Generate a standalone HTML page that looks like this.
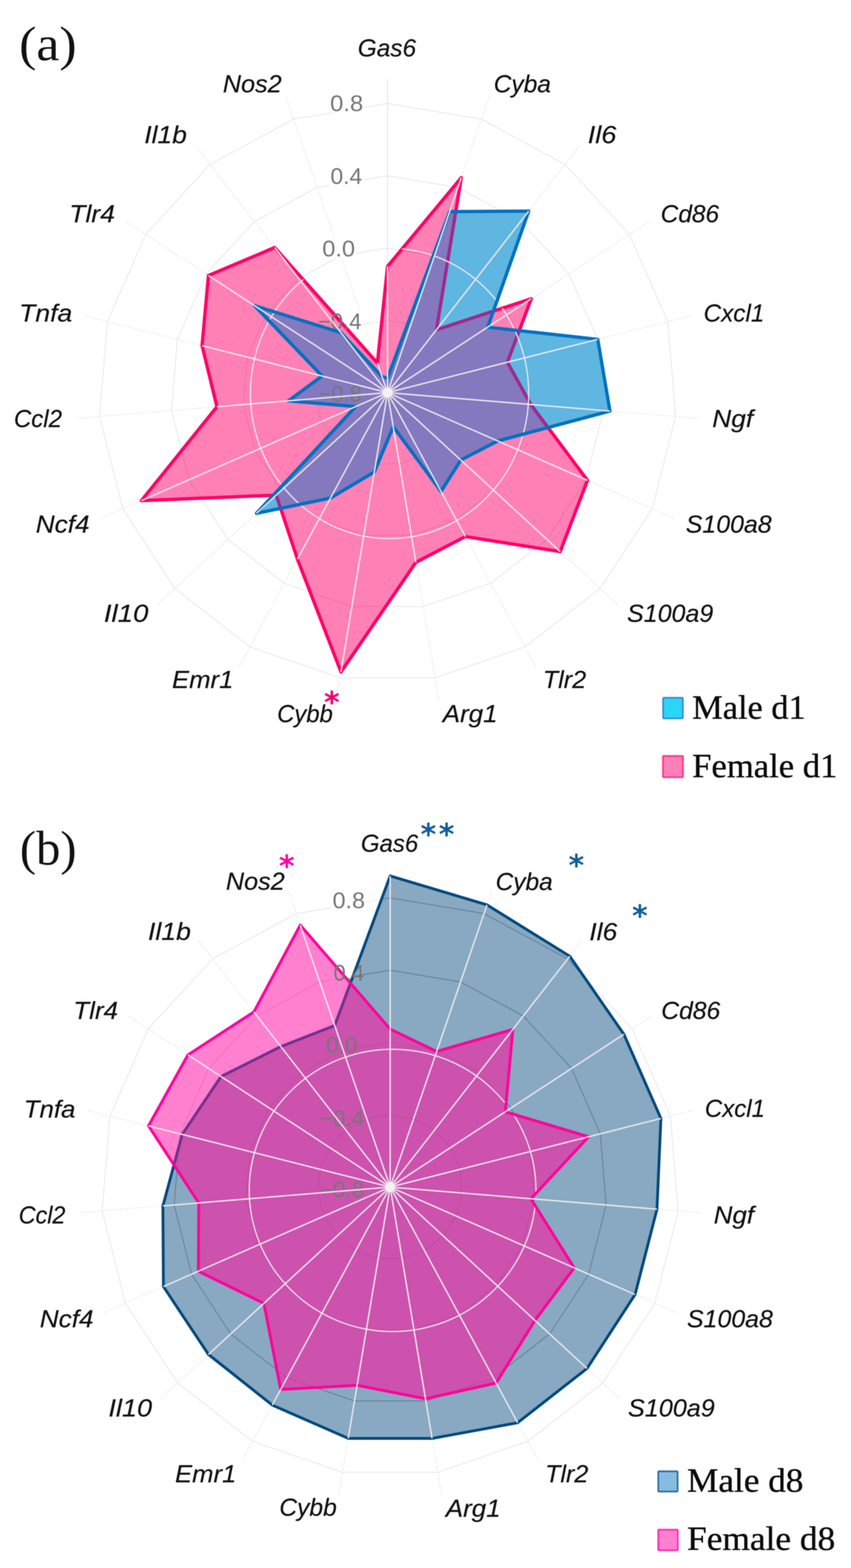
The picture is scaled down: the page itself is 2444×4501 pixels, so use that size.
<!DOCTYPE html>
<html><head><meta charset="utf-8"><title>Radar charts</title><style>
html,body{margin:0;padding:0;background:#fff;}
svg{display:block;}
#wrap{filter:blur(1.2px);width:2444px;height:4501px;overflow:hidden;}
.ring{fill:none;stroke:#ebebeb;stroke-width:3;}
.spoke{stroke:#e9e9e9;stroke-width:3;stroke-dasharray:5 4;}
.axis{stroke:#e6e6e6;stroke-width:3;}
.wsp{stroke:#ece8ee;stroke-width:4;}
.wcirc{fill:none;stroke:#ece8ee;stroke-width:3.5;}
.dring1{fill:none;stroke:rgba(150,40,90,0.16);stroke-width:2.5;}
.dring2{fill:none;stroke:rgba(40,70,100,0.42);stroke-width:2.5;}
.lab text{font-family:"Liberation Sans",sans-serif;font-style:italic;font-size:70px;fill:#111;stroke:#111;stroke-width:0.5px;}
.tick text{font-family:"Liberation Sans",sans-serif;font-size:64px;fill:#767676;}
.panel text{font-family:"Liberation Serif",serif;font-size:140px;fill:#111;}
.legend text{font-family:"Liberation Serif",serif;font-size:97px;fill:#0a0a0a;stroke:#0a0a0a;stroke-width:0.9px;}
.ast text{font-family:"DejaVu Sans",sans-serif;font-size:86px;font-weight:bold;}
</style></head>
<body>
<div id="wrap">
<svg width="2444" height="4501" viewBox="0 0 2444 4501">
<defs>
<clipPath id="cpA"><polygon points="1113.0,764.6 1324.8,509.9 1253.4,946.6 1525.7,857.4 1457.2,1039.8 1524.4,1161.1 1687.2,1378.9 1608.8,1583.4 1336.6,1540.1 1194.3,1614.3 979.2,1928.9 854.3,1605.0 793.3,1421.3 406.0,1437.1 623.0,1167.6 580.3,992.1 598.6,790.9 788.8,710.5 1083.8,1042.1"/></clipPath>
<clipPath id="cbA"><polygon points="1113.0,1085.0 1291.4,607.4 1518.5,606.0 1400.7,939.1 1716.7,974.1 1751.7,1179.9 1429.5,1265.8 1323.3,1320.6 1266.5,1410.7 1129.4,1225.0 1075.0,1354.8 949.2,1429.6 736.5,1473.6 1021.5,1167.1 828.2,1150.6 925.0,1079.4 730.9,877.4 979.0,954.8 1097.4,1081.6"/></clipPath>
<clipPath id="cuA"><polygon points="1113.0,764.6 1324.8,509.9 1253.4,946.6 1525.7,857.4 1457.2,1039.8 1524.4,1161.1 1687.2,1378.9 1608.8,1583.4 1336.6,1540.1 1194.3,1614.3 979.2,1928.9 854.3,1605.0 793.3,1421.3 406.0,1437.1 623.0,1167.6 580.3,992.1 598.6,790.9 788.8,710.5 1083.8,1042.1"/><polygon points="1113.0,1085.0 1291.4,607.4 1518.5,606.0 1400.7,939.1 1716.7,974.1 1751.7,1179.9 1429.5,1265.8 1323.3,1320.6 1266.5,1410.7 1129.4,1225.0 1075.0,1354.8 949.2,1429.6 736.5,1473.6 1021.5,1167.1 828.2,1150.6 925.0,1079.4 730.9,877.4 979.0,954.8 1097.4,1081.6"/></clipPath>
<clipPath id="cpB"><polygon points="1120.5,2954.0 1254.1,3018.2 1472.9,2954.8 1451.3,3191.3 1690.5,3263.2 1524.7,3441.0 1649.1,3639.4 1536.3,3790.3 1424.9,3970.0 1221.9,4015.1 1025.5,3976.5 806.1,3988.4 757.9,3741.3 569.7,3649.1 570.8,3453.1 426.5,3231.8 539.6,3028.0 729.1,2904.7 862.3,2655.4"/></clipPath>
<clipPath id="cbB"><polygon points="1120.5,2514.3 1398.6,2597.4 1636.3,2744.9 1791.8,2968.9 1898.1,3210.6 1886.8,3471.0 1823.9,3716.0 1686.0,3928.1 1486.6,4084.0 1240.9,4129.1 1000.1,4128.9 781.8,4033.4 598.6,3888.0 469.3,3693.1 467.8,3461.6 523.3,3256.3 634.8,3090.2 806.6,3004.2 961.3,2943.8"/></clipPath>
</defs>
<rect width="2444" height="4501" fill="#ffffff"/>
<g id="chartA">
<polygon points="1113.0,919.5 1180.4,930.7 1240.4,963.3 1286.7,1013.5 1314.2,1076.1 1319.8,1144.1 1303.0,1210.4 1265.7,1267.5 1211.8,1309.5 1147.2,1331.7 1078.8,1331.7 1014.2,1309.5 960.3,1267.5 923.0,1210.4 906.2,1144.1 911.8,1076.1 939.3,1013.5 985.6,963.3 1045.6,930.7" class="ring"/>
<polygon points="1113.0,712.0 1247.8,734.5 1367.9,799.5 1460.4,900.0 1515.3,1025.1 1526.6,1161.3 1493.0,1293.7 1418.3,1408.1 1310.5,1492.0 1181.3,1536.3 1044.7,1536.3 915.5,1492.0 807.7,1408.1 733.0,1293.7 699.4,1161.3 710.7,1025.1 765.6,900.0 858.1,799.5 978.2,734.5" class="ring"/>
<polygon points="1113.0,504.5 1315.1,538.2 1495.3,635.8 1634.1,786.5 1716.5,974.2 1733.4,1178.4 1683.1,1377.1 1571.0,1548.6 1409.3,1674.5 1215.5,1741.0 1010.5,1741.0 816.7,1674.5 655.0,1548.6 542.9,1377.1 492.6,1178.4 509.5,974.2 591.9,786.5 730.7,635.8 910.9,538.2" class="ring"/>
<polygon points="1113.0,297.0 1382.5,342.0 1622.8,472.0 1807.8,673.0 1917.6,923.2 1940.2,1195.5 1873.1,1460.4 1723.7,1689.1 1508.0,1857.0 1249.6,1945.7 976.4,1945.7 718.0,1857.0 502.3,1689.1 352.9,1460.4 285.8,1195.5 308.4,923.2 418.2,673.0 603.2,472.0 843.5,342.0" class="ring"/>
<line x1="1113.0" y1="1127.0" x2="1113.0" y2="227.0" class="axis"/>
<line x1="1113.0" y1="1127.0" x2="1405.2" y2="275.8" class="spoke"/>
<line x1="1113.0" y1="1127.0" x2="1665.8" y2="416.8" class="spoke"/>
<line x1="1113.0" y1="1127.0" x2="1866.4" y2="634.7" class="spoke"/>
<line x1="1113.0" y1="1127.0" x2="1985.5" y2="906.1" class="spoke"/>
<line x1="1113.0" y1="1127.0" x2="2009.9" y2="1201.3" class="spoke"/>
<line x1="1113.0" y1="1127.0" x2="1937.2" y2="1488.5" class="spoke"/>
<line x1="1113.0" y1="1127.0" x2="1775.2" y2="1736.6" class="spoke"/>
<line x1="1113.0" y1="1127.0" x2="1541.4" y2="1918.5" class="spoke"/>
<line x1="1113.0" y1="1127.0" x2="1261.1" y2="2014.7" class="spoke"/>
<line x1="1113.0" y1="1127.0" x2="964.9" y2="2014.7" class="spoke"/>
<line x1="1113.0" y1="1127.0" x2="684.6" y2="1918.5" class="spoke"/>
<line x1="1113.0" y1="1127.0" x2="450.8" y2="1736.6" class="spoke"/>
<line x1="1113.0" y1="1127.0" x2="288.8" y2="1488.5" class="spoke"/>
<line x1="1113.0" y1="1127.0" x2="216.1" y2="1201.3" class="spoke"/>
<line x1="1113.0" y1="1127.0" x2="240.5" y2="906.1" class="spoke"/>
<line x1="1113.0" y1="1127.0" x2="359.6" y2="634.7" class="spoke"/>
<line x1="1113.0" y1="1127.0" x2="560.2" y2="416.8" class="spoke"/>
<line x1="1113.0" y1="1127.0" x2="820.8" y2="275.8" class="spoke"/>
<rect x="946.0" y="268.8" width="98.7" height="54.1" fill="#ffffff"/>
<rect x="946.0" y="478.0" width="97.0" height="54.7" fill="#ffffff"/>
<rect x="923.6" y="686.0" width="98.6" height="55.2" fill="#ffffff"/>
<rect x="911.0" y="894.8" width="131.2" height="55.2" fill="#ffffff"/>
<rect x="913.0" y="1105.0" width="128.5" height="51.0" fill="#ffffff"/>
<polygon points="1113.0,764.6 1324.8,509.9 1253.4,946.6 1525.7,857.4 1457.2,1039.8 1524.4,1161.1 1687.2,1378.9 1608.8,1583.4 1336.6,1540.1 1194.3,1614.3 979.2,1928.9 854.3,1605.0 793.3,1421.3 406.0,1437.1 623.0,1167.6 580.3,992.1 598.6,790.9 788.8,710.5 1083.8,1042.1" fill="#ff80b4"/>
<g clip-path="url(#cpA)"><polygon points="1113.0,919.5 1180.4,930.7 1240.4,963.3 1286.7,1013.5 1314.2,1076.1 1319.8,1144.1 1303.0,1210.4 1265.7,1267.5 1211.8,1309.5 1147.2,1331.7 1078.8,1331.7 1014.2,1309.5 960.3,1267.5 923.0,1210.4 906.2,1144.1 911.8,1076.1 939.3,1013.5 985.6,963.3 1045.6,930.7" class="dring1"/><polygon points="1113.0,712.0 1247.8,734.5 1367.9,799.5 1460.4,900.0 1515.3,1025.1 1526.6,1161.3 1493.0,1293.7 1418.3,1408.1 1310.5,1492.0 1181.3,1536.3 1044.7,1536.3 915.5,1492.0 807.7,1408.1 733.0,1293.7 699.4,1161.3 710.7,1025.1 765.6,900.0 858.1,799.5 978.2,734.5" class="dring1"/><polygon points="1113.0,504.5 1315.1,538.2 1495.3,635.8 1634.1,786.5 1716.5,974.2 1733.4,1178.4 1683.1,1377.1 1571.0,1548.6 1409.3,1674.5 1215.5,1741.0 1010.5,1741.0 816.7,1674.5 655.0,1548.6 542.9,1377.1 492.6,1178.4 509.5,974.2 591.9,786.5 730.7,635.8 910.9,538.2" class="dring1"/><polygon points="1113.0,297.0 1382.5,342.0 1622.8,472.0 1807.8,673.0 1917.6,923.2 1940.2,1195.5 1873.1,1460.4 1723.7,1689.1 1508.0,1857.0 1249.6,1945.7 976.4,1945.7 718.0,1857.0 502.3,1689.1 352.9,1460.4 285.8,1195.5 308.4,923.2 418.2,673.0 603.2,472.0 843.5,342.0" class="dring1"/></g>
<polygon points="1113.0,764.6 1324.8,509.9 1253.4,946.6 1525.7,857.4 1457.2,1039.8 1524.4,1161.1 1687.2,1378.9 1608.8,1583.4 1336.6,1540.1 1194.3,1614.3 979.2,1928.9 854.3,1605.0 793.3,1421.3 406.0,1437.1 623.0,1167.6 580.3,992.1 598.6,790.9 788.8,710.5 1083.8,1042.1" fill="none" stroke="#ff0066" stroke-width="9.5" stroke-linejoin="round"/>
<polygon points="1113.0,1085.0 1291.4,607.4 1518.5,606.0 1400.7,939.1 1716.7,974.1 1751.7,1179.9 1429.5,1265.8 1323.3,1320.6 1266.5,1410.7 1129.4,1225.0 1075.0,1354.8 949.2,1429.6 736.5,1473.6 1021.5,1167.1 828.2,1150.6 925.0,1079.4 730.9,877.4 979.0,954.8 1097.4,1081.6" fill="#5fb6e0"/>
<polygon points="1113.0,1085.0 1291.4,607.4 1518.5,606.0 1400.7,939.1 1716.7,974.1 1751.7,1179.9 1429.5,1265.8 1323.3,1320.6 1266.5,1410.7 1129.4,1225.0 1075.0,1354.8 949.2,1429.6 736.5,1473.6 1021.5,1167.1 828.2,1150.6 925.0,1079.4 730.9,877.4 979.0,954.8 1097.4,1081.6" fill="#8479bf" clip-path="url(#cpA)"/>
<polygon points="1113.0,764.6 1324.8,509.9 1253.4,946.6 1525.7,857.4 1457.2,1039.8 1524.4,1161.1 1687.2,1378.9 1608.8,1583.4 1336.6,1540.1 1194.3,1614.3 979.2,1928.9 854.3,1605.0 793.3,1421.3 406.0,1437.1 623.0,1167.6 580.3,992.1 598.6,790.9 788.8,710.5 1083.8,1042.1" fill="none" stroke="#a0288c" stroke-width="9.5" stroke-linejoin="round" clip-path="url(#cbA)"/>
<g clip-path="url(#cuA)"><ellipse cx="1118.8" cy="1129.4" rx="399.5" ry="416.7" class="wcirc"/></g>
<polygon points="1113.0,1085.0 1291.4,607.4 1518.5,606.0 1400.7,939.1 1716.7,974.1 1751.7,1179.9 1429.5,1265.8 1323.3,1320.6 1266.5,1410.7 1129.4,1225.0 1075.0,1354.8 949.2,1429.6 736.5,1473.6 1021.5,1167.1 828.2,1150.6 925.0,1079.4 730.9,877.4 979.0,954.8 1097.4,1081.6" fill="none" stroke="#0070c0" stroke-width="9.5" stroke-linejoin="round"/>
<g class="tick">
<text id="t_tA0_8" x="948.0" y="318.8" textLength="95.1" lengthAdjust="spacingAndGlyphs">0.8</text>
<text id="t_tA0_4" x="949.0" y="527.5" textLength="91.2" lengthAdjust="spacingAndGlyphs">0.4</text>
<text id="t_tA0_0" x="925.6" y="736.2" textLength="93.9" lengthAdjust="spacingAndGlyphs">0.0</text>
<text id="t_tA-0_4" x="913.0" y="945.0" textLength="125.4" lengthAdjust="spacingAndGlyphs">−0.4</text>
<text id="t_tA-0_8" x="915.0" y="1153.0" textLength="123.8" lengthAdjust="spacingAndGlyphs">−0.8</text>
</g>
<line x1="1113.0" y1="1127.0" x2="1113.0" y2="764.6" class="wsp"/>
<line x1="1113.0" y1="1127.0" x2="1324.8" y2="509.9" class="wsp"/>
<line x1="1113.0" y1="1127.0" x2="1518.5" y2="606.0" class="wsp"/>
<line x1="1113.0" y1="1127.0" x2="1525.7" y2="857.4" class="wsp"/>
<line x1="1113.0" y1="1127.0" x2="1716.7" y2="974.1" class="wsp"/>
<line x1="1113.0" y1="1127.0" x2="1751.7" y2="1179.9" class="wsp"/>
<line x1="1113.0" y1="1127.0" x2="1687.2" y2="1378.9" class="wsp"/>
<line x1="1113.0" y1="1127.0" x2="1608.8" y2="1583.4" class="wsp"/>
<line x1="1113.0" y1="1127.0" x2="1336.6" y2="1540.1" class="wsp"/>
<line x1="1113.0" y1="1127.0" x2="1194.3" y2="1614.3" class="wsp"/>
<line x1="1113.0" y1="1127.0" x2="979.2" y2="1928.9" class="wsp"/>
<line x1="1113.0" y1="1127.0" x2="854.3" y2="1605.0" class="wsp"/>
<line x1="1113.0" y1="1127.0" x2="736.5" y2="1473.6" class="wsp"/>
<line x1="1113.0" y1="1127.0" x2="406.0" y2="1437.1" class="wsp"/>
<line x1="1113.0" y1="1127.0" x2="623.0" y2="1167.6" class="wsp"/>
<line x1="1113.0" y1="1127.0" x2="580.3" y2="992.1" class="wsp"/>
<line x1="1113.0" y1="1127.0" x2="598.6" y2="790.9" class="wsp"/>
<line x1="1113.0" y1="1127.0" x2="788.8" y2="710.5" class="wsp"/>
<line x1="1113.0" y1="1127.0" x2="1083.8" y2="1042.1" class="wsp"/>
<circle cx="1113.0" cy="1127.0" r="14" fill="#f3f1f4"/>
</g>
<g id="chartB">
<polygon points="1120.5,3200.0 1187.9,3211.2 1247.9,3243.8 1294.2,3294.0 1321.7,3356.6 1327.3,3424.6 1310.5,3490.9 1273.2,3548.0 1219.3,3590.0 1154.7,3612.2 1086.3,3612.2 1021.7,3590.0 967.8,3548.0 930.5,3490.9 913.7,3424.6 919.3,3356.6 946.8,3294.0 993.1,3243.8 1053.1,3211.2" class="ring"/>
<polygon points="1120.5,2992.5 1255.3,3015.0 1375.4,3080.0 1467.9,3180.5 1522.8,3305.6 1534.1,3441.8 1500.5,3574.2 1425.8,3688.6 1318.0,3772.5 1188.8,3816.8 1052.2,3816.8 923.0,3772.5 815.2,3688.6 740.5,3574.2 706.9,3441.8 718.2,3305.6 773.1,3180.5 865.6,3080.0 985.7,3015.0" class="ring"/>
<polygon points="1120.5,2785.0 1322.6,2818.7 1502.8,2916.3 1641.6,3067.0 1724.0,3254.7 1740.9,3458.9 1690.6,3657.6 1578.5,3829.1 1416.8,3955.0 1223.0,4021.5 1018.0,4021.5 824.2,3955.0 662.5,3829.1 550.4,3657.6 500.1,3458.9 517.0,3254.7 599.4,3067.0 738.2,2916.3 918.4,2818.7" class="ring"/>
<polygon points="1120.5,2577.5 1390.0,2622.5 1630.3,2752.5 1815.3,2953.5 1925.1,3203.7 1947.7,3476.0 1880.6,3740.9 1731.2,3969.6 1515.5,4137.5 1257.1,4226.2 983.9,4226.2 725.5,4137.5 509.8,3969.6 360.4,3740.9 293.3,3476.0 315.9,3203.7 425.7,2953.5 610.7,2752.5 851.0,2622.5" class="ring"/>
<line x1="1120.5" y1="3407.5" x2="1120.5" y2="2507.5" class="axis"/>
<line x1="1120.5" y1="3407.5" x2="1412.7" y2="2556.3" class="spoke"/>
<line x1="1120.5" y1="3407.5" x2="1673.3" y2="2697.3" class="spoke"/>
<line x1="1120.5" y1="3407.5" x2="1873.9" y2="2915.2" class="spoke"/>
<line x1="1120.5" y1="3407.5" x2="1993.0" y2="3186.6" class="spoke"/>
<line x1="1120.5" y1="3407.5" x2="2017.4" y2="3481.8" class="spoke"/>
<line x1="1120.5" y1="3407.5" x2="1944.7" y2="3769.0" class="spoke"/>
<line x1="1120.5" y1="3407.5" x2="1782.7" y2="4017.1" class="spoke"/>
<line x1="1120.5" y1="3407.5" x2="1548.9" y2="4199.0" class="spoke"/>
<line x1="1120.5" y1="3407.5" x2="1268.6" y2="4295.2" class="spoke"/>
<line x1="1120.5" y1="3407.5" x2="972.4" y2="4295.2" class="spoke"/>
<line x1="1120.5" y1="3407.5" x2="692.1" y2="4199.0" class="spoke"/>
<line x1="1120.5" y1="3407.5" x2="458.3" y2="4017.1" class="spoke"/>
<line x1="1120.5" y1="3407.5" x2="296.3" y2="3769.0" class="spoke"/>
<line x1="1120.5" y1="3407.5" x2="223.6" y2="3481.8" class="spoke"/>
<line x1="1120.5" y1="3407.5" x2="248.0" y2="3186.6" class="spoke"/>
<line x1="1120.5" y1="3407.5" x2="367.1" y2="2915.2" class="spoke"/>
<line x1="1120.5" y1="3407.5" x2="567.7" y2="2697.3" class="spoke"/>
<line x1="1120.5" y1="3407.5" x2="828.3" y2="2556.3" class="spoke"/>
<rect x="953.0" y="2559.6" width="98.0" height="50.9" fill="#ffffff"/>
<rect x="955.0" y="2765.5" width="94.0" height="53.0" fill="#ffffff"/>
<rect x="933.6" y="2972.4" width="95.8" height="53.1" fill="#ffffff"/>
<rect x="916.5" y="3183.8" width="132.2" height="51.7" fill="#ffffff"/>
<rect x="916.5" y="3389.0" width="132.2" height="51.7" fill="#ffffff"/>
<polygon points="1120.5,2514.3 1398.6,2597.4 1636.3,2744.9 1791.8,2968.9 1898.1,3210.6 1886.8,3471.0 1823.9,3716.0 1686.0,3928.1 1486.6,4084.0 1240.9,4129.1 1000.1,4128.9 781.8,4033.4 598.6,3888.0 469.3,3693.1 467.8,3461.6 523.3,3256.3 634.8,3090.2 806.6,3004.2 961.3,2943.8" fill="#88a9c1"/>
<g clip-path="url(#cbB)"><polygon points="1120.5,3200.0 1187.9,3211.2 1247.9,3243.8 1294.2,3294.0 1321.7,3356.6 1327.3,3424.6 1310.5,3490.9 1273.2,3548.0 1219.3,3590.0 1154.7,3612.2 1086.3,3612.2 1021.7,3590.0 967.8,3548.0 930.5,3490.9 913.7,3424.6 919.3,3356.6 946.8,3294.0 993.1,3243.8 1053.1,3211.2" class="dring2"/><polygon points="1120.5,2992.5 1255.3,3015.0 1375.4,3080.0 1467.9,3180.5 1522.8,3305.6 1534.1,3441.8 1500.5,3574.2 1425.8,3688.6 1318.0,3772.5 1188.8,3816.8 1052.2,3816.8 923.0,3772.5 815.2,3688.6 740.5,3574.2 706.9,3441.8 718.2,3305.6 773.1,3180.5 865.6,3080.0 985.7,3015.0" class="dring2"/><polygon points="1120.5,2785.0 1322.6,2818.7 1502.8,2916.3 1641.6,3067.0 1724.0,3254.7 1740.9,3458.9 1690.6,3657.6 1578.5,3829.1 1416.8,3955.0 1223.0,4021.5 1018.0,4021.5 824.2,3955.0 662.5,3829.1 550.4,3657.6 500.1,3458.9 517.0,3254.7 599.4,3067.0 738.2,2916.3 918.4,2818.7" class="dring2"/><polygon points="1120.5,2577.5 1390.0,2622.5 1630.3,2752.5 1815.3,2953.5 1925.1,3203.7 1947.7,3476.0 1880.6,3740.9 1731.2,3969.6 1515.5,4137.5 1257.1,4226.2 983.9,4226.2 725.5,4137.5 509.8,3969.6 360.4,3740.9 293.3,3476.0 315.9,3203.7 425.7,2953.5 610.7,2752.5 851.0,2622.5" class="dring2"/></g>
<polygon points="1120.5,2514.3 1398.6,2597.4 1636.3,2744.9 1791.8,2968.9 1898.1,3210.6 1886.8,3471.0 1823.9,3716.0 1686.0,3928.1 1486.6,4084.0 1240.9,4129.1 1000.1,4128.9 781.8,4033.4 598.6,3888.0 469.3,3693.1 467.8,3461.6 523.3,3256.3 634.8,3090.2 806.6,3004.2 961.3,2943.8" fill="none" stroke="#00487c" stroke-width="8" stroke-linejoin="round"/>
<polygon points="1120.5,2954.0 1254.1,3018.2 1472.9,2954.8 1451.3,3191.3 1690.5,3263.2 1524.7,3441.0 1649.1,3639.4 1536.3,3790.3 1424.9,3970.0 1221.9,4015.1 1025.5,3976.5 806.1,3988.4 757.9,3741.3 569.7,3649.1 570.8,3453.1 426.5,3231.8 539.6,3028.0 729.1,2904.7 862.3,2655.4" fill="#ff80cf"/>
<polygon points="1120.5,2954.0 1254.1,3018.2 1472.9,2954.8 1451.3,3191.3 1690.5,3263.2 1524.7,3441.0 1649.1,3639.4 1536.3,3790.3 1424.9,3970.0 1221.9,4015.1 1025.5,3976.5 806.1,3988.4 757.9,3741.3 569.7,3649.1 570.8,3453.1 426.5,3231.8 539.6,3028.0 729.1,2904.7 862.3,2655.4" fill="#cc52ad" clip-path="url(#cbB)"/>
<g clip-path="url(#cpB)"><polygon points="1120.5,3200.0 1187.9,3211.2 1247.9,3243.8 1294.2,3294.0 1321.7,3356.6 1327.3,3424.6 1310.5,3490.9 1273.2,3548.0 1219.3,3590.0 1154.7,3612.2 1086.3,3612.2 1021.7,3590.0 967.8,3548.0 930.5,3490.9 913.7,3424.6 919.3,3356.6 946.8,3294.0 993.1,3243.8 1053.1,3211.2" class="dring1"/><polygon points="1120.5,2992.5 1255.3,3015.0 1375.4,3080.0 1467.9,3180.5 1522.8,3305.6 1534.1,3441.8 1500.5,3574.2 1425.8,3688.6 1318.0,3772.5 1188.8,3816.8 1052.2,3816.8 923.0,3772.5 815.2,3688.6 740.5,3574.2 706.9,3441.8 718.2,3305.6 773.1,3180.5 865.6,3080.0 985.7,3015.0" class="dring1"/><polygon points="1120.5,2785.0 1322.6,2818.7 1502.8,2916.3 1641.6,3067.0 1724.0,3254.7 1740.9,3458.9 1690.6,3657.6 1578.5,3829.1 1416.8,3955.0 1223.0,4021.5 1018.0,4021.5 824.2,3955.0 662.5,3829.1 550.4,3657.6 500.1,3458.9 517.0,3254.7 599.4,3067.0 738.2,2916.3 918.4,2818.7" class="dring1"/><polygon points="1120.5,2577.5 1390.0,2622.5 1630.3,2752.5 1815.3,2953.5 1925.1,3203.7 1947.7,3476.0 1880.6,3740.9 1731.2,3969.6 1515.5,4137.5 1257.1,4226.2 983.9,4226.2 725.5,4137.5 509.8,3969.6 360.4,3740.9 293.3,3476.0 315.9,3203.7 425.7,2953.5 610.7,2752.5 851.0,2622.5" class="dring1"/></g>
<polygon points="1120.5,2514.3 1398.6,2597.4 1636.3,2744.9 1791.8,2968.9 1898.1,3210.6 1886.8,3471.0 1823.9,3716.0 1686.0,3928.1 1486.6,4084.0 1240.9,4129.1 1000.1,4128.9 781.8,4033.4 598.6,3888.0 469.3,3693.1 467.8,3461.6 523.3,3256.3 634.8,3090.2 806.6,3004.2 961.3,2943.8" fill="none" stroke="#74308c" stroke-width="8" stroke-linejoin="round" clip-path="url(#cpB)"/>
<g clip-path="url(#cpB)"><ellipse cx="1127.5" cy="3417.1" rx="411.7" ry="405.1" class="wcirc"/></g>
<polygon points="1120.5,2954.0 1254.1,3018.2 1472.9,2954.8 1451.3,3191.3 1690.5,3263.2 1524.7,3441.0 1649.1,3639.4 1536.3,3790.3 1424.9,3970.0 1221.9,4015.1 1025.5,3976.5 806.1,3988.4 757.9,3741.3 569.7,3649.1 570.8,3453.1 426.5,3231.8 539.6,3028.0 729.1,2904.7 862.3,2655.4" fill="none" stroke="#ff0099" stroke-width="8" stroke-linejoin="round"/>
<g class="tick">
<text id="t_tB0_8" x="955.0" y="2607.4" textLength="93.4" lengthAdjust="spacingAndGlyphs">0.8</text>
<text id="t_tB0_4" x="958.0" y="2814.5" textLength="87.4" lengthAdjust="spacingAndGlyphs">0.4</text>
<text id="t_tB0_0" x="936.6" y="3021.6" textLength="90.1" lengthAdjust="spacingAndGlyphs">0.0</text>
<text id="t_tB-0_4" x="918.5" y="3232.2" textLength="127.4" lengthAdjust="spacingAndGlyphs">−0.4</text>
<text id="t_tB-0_8" x="918.5" y="3437.0" textLength="127.6" lengthAdjust="spacingAndGlyphs">−0.8</text>
</g>
<line x1="1120.5" y1="3407.5" x2="1120.5" y2="2514.3" class="wsp"/>
<line x1="1120.5" y1="3407.5" x2="1398.6" y2="2597.4" class="wsp"/>
<line x1="1120.5" y1="3407.5" x2="1636.3" y2="2744.9" class="wsp"/>
<line x1="1120.5" y1="3407.5" x2="1791.8" y2="2968.9" class="wsp"/>
<line x1="1120.5" y1="3407.5" x2="1898.1" y2="3210.6" class="wsp"/>
<line x1="1120.5" y1="3407.5" x2="1886.8" y2="3471.0" class="wsp"/>
<line x1="1120.5" y1="3407.5" x2="1823.9" y2="3716.0" class="wsp"/>
<line x1="1120.5" y1="3407.5" x2="1686.0" y2="3928.1" class="wsp"/>
<line x1="1120.5" y1="3407.5" x2="1486.6" y2="4084.0" class="wsp"/>
<line x1="1120.5" y1="3407.5" x2="1240.9" y2="4129.1" class="wsp"/>
<line x1="1120.5" y1="3407.5" x2="1000.1" y2="4128.9" class="wsp"/>
<line x1="1120.5" y1="3407.5" x2="781.8" y2="4033.4" class="wsp"/>
<line x1="1120.5" y1="3407.5" x2="598.6" y2="3888.0" class="wsp"/>
<line x1="1120.5" y1="3407.5" x2="469.3" y2="3693.1" class="wsp"/>
<line x1="1120.5" y1="3407.5" x2="467.8" y2="3461.6" class="wsp"/>
<line x1="1120.5" y1="3407.5" x2="426.5" y2="3231.8" class="wsp"/>
<line x1="1120.5" y1="3407.5" x2="539.6" y2="3028.0" class="wsp"/>
<line x1="1120.5" y1="3407.5" x2="729.1" y2="2904.7" class="wsp"/>
<line x1="1120.5" y1="3407.5" x2="862.3" y2="2655.4" class="wsp"/>
<circle cx="1120.5" cy="3407.5" r="14" fill="#f3f1f4"/>
</g>
<g class="lab">
<text id="t_labA_Gas6" x="1027.6" y="162.1" textLength="167.3" lengthAdjust="spacingAndGlyphs">Gas6</text>
<text id="t_labB_Gas6" x="1036.4" y="2444.5" textLength="164.6" lengthAdjust="spacingAndGlyphs">Gas6</text>
<text id="t_labA_Cyba" x="1418.0" y="264.7" textLength="164.2" lengthAdjust="spacingAndGlyphs">Cyba</text>
<text id="t_labB_Cyba" x="1423.6" y="2555.1" textLength="163.6" lengthAdjust="spacingAndGlyphs">Cyba</text>
<text id="t_labA_Il6" x="1688.0" y="411.0" textLength="82.1" lengthAdjust="spacingAndGlyphs">Il6</text>
<text id="t_labB_Il6" x="1692.6" y="2699.2" textLength="79.9" lengthAdjust="spacingAndGlyphs">Il6</text>
<text id="t_labA_Cd86" x="1897.6" y="637.5" textLength="167.4" lengthAdjust="spacingAndGlyphs">Cd86</text>
<text id="t_labB_Cd86" x="1899.0" y="2924.9" textLength="169.4" lengthAdjust="spacingAndGlyphs">Cd86</text>
<text id="t_labA_Cxcl1" x="2020.8" y="923.2" textLength="174.4" lengthAdjust="spacingAndGlyphs">Cxcl1</text>
<text id="t_labB_Cxcl1" x="2024.3" y="3205.8" textLength="172.6" lengthAdjust="spacingAndGlyphs">Cxcl1</text>
<text id="t_labA_Ngf" x="2045.4" y="1225.5" textLength="117.5" lengthAdjust="spacingAndGlyphs">Ngf</text>
<text id="t_labB_Ngf" x="2049.8" y="3511.5" textLength="115.7" lengthAdjust="spacingAndGlyphs">Ngf</text>
<text id="t_labA_S100a8" x="1969.4" y="1528.5" textLength="246.6" lengthAdjust="spacingAndGlyphs">S100a8</text>
<text id="t_labB_S100a8" x="1972.9" y="3809.7" textLength="246.6" lengthAdjust="spacingAndGlyphs">S100a8</text>
<text id="t_labA_S100a9" x="1800.8" y="1784.8" textLength="247.6" lengthAdjust="spacingAndGlyphs">S100a9</text>
<text id="t_labB_S100a9" x="1803.5" y="4065.6" textLength="249.3" lengthAdjust="spacingAndGlyphs">S100a9</text>
<text id="t_labA_Tlr2" x="1559.0" y="1975.2" textLength="124.3" lengthAdjust="spacingAndGlyphs">Tlr2</text>
<text id="t_labB_Tlr2" x="1565.4" y="4255.1" textLength="124.3" lengthAdjust="spacingAndGlyphs">Tlr2</text>
<text id="t_labA_Arg1" x="1271.4" y="2073.0" textLength="157.6" lengthAdjust="spacingAndGlyphs">Arg1</text>
<text id="t_labB_Arg1" x="1280.2" y="4353.8" textLength="157.4" lengthAdjust="spacingAndGlyphs">Arg1</text>
<text id="t_labA_Cybb" x="796.0" y="2073.0" textLength="159.8" lengthAdjust="spacingAndGlyphs">Cybb</text>
<text id="t_labB_Cybb" x="802.3" y="4351.2" textLength="164.9" lengthAdjust="spacingAndGlyphs">Cybb</text>
<text id="t_labA_Emr1" x="494.0" y="1975.2" textLength="176.2" lengthAdjust="spacingAndGlyphs">Emr1</text>
<text id="t_labB_Emr1" x="502.8" y="4255.1" textLength="175.8" lengthAdjust="spacingAndGlyphs">Emr1</text>
<text id="t_labA_Il10" x="298.3" y="1784.8" textLength="127.9" lengthAdjust="spacingAndGlyphs">Il10</text>
<text id="t_labB_Il10" x="311.4" y="4065.6" textLength="125.3" lengthAdjust="spacingAndGlyphs">Il10</text>
<text id="t_labA_Ncf4" x="102.8" y="1528.5" textLength="154.3" lengthAdjust="spacingAndGlyphs">Ncf4</text>
<text id="t_labB_Ncf4" x="114.2" y="3809.7" textLength="154.3" lengthAdjust="spacingAndGlyphs">Ncf4</text>
<text id="t_labA_Ccl2" x="40.0" y="1225.5" textLength="138.1" lengthAdjust="spacingAndGlyphs">Ccl2</text>
<text id="t_labB_Ccl2" x="53.8" y="3511.5" textLength="134.1" lengthAdjust="spacingAndGlyphs">Ccl2</text>
<text id="t_labA_Tnfa" x="55.0" y="923.2" textLength="152.5" lengthAdjust="spacingAndGlyphs">Tnfa</text>
<text id="t_labB_Tnfa" x="68.2" y="3207.5" textLength="148.4" lengthAdjust="spacingAndGlyphs">Tnfa</text>
<text id="t_labA_Tlr4" x="199.0" y="637.5" textLength="131.0" lengthAdjust="spacingAndGlyphs">Tlr4</text>
<text id="t_labB_Tlr4" x="210.6" y="2925.0" textLength="128.3" lengthAdjust="spacingAndGlyphs">Tlr4</text>
<text id="t_labA_Il1b" x="414.5" y="411.0" textLength="122.1" lengthAdjust="spacingAndGlyphs">Il1b</text>
<text id="t_labB_Il1b" x="425.0" y="2697.9" textLength="123.2" lengthAdjust="spacingAndGlyphs">Il1b</text>
<text id="t_labA_Nos2" x="640.0" y="264.7" textLength="169.0" lengthAdjust="spacingAndGlyphs">Nos2</text>
<text id="t_labB_Nos2" x="648.7" y="2553.8" textLength="169.0" lengthAdjust="spacingAndGlyphs">Nos2</text>
</g>
<g class="panel">
<text id="t_panA" x="55.0" y="173.0" textLength="164.9" lengthAdjust="spacingAndGlyphs">(a)</text>
<text id="t_panB" x="57.0" y="2482.0" textLength="162.9" lengthAdjust="spacingAndGlyphs">(b)</text>
</g>
<g class="legend">
<rect class="sw" x="1904.5" y="2003" width="56.5" height="59" rx="2" fill="#2cd5f5" stroke="#3a8cdb" stroke-width="5"/>
<rect class="sw" x="1904" y="2170" width="57.5" height="61" rx="2" fill="#ff80b6" stroke="#ff3a8e" stroke-width="5"/>
<rect class="sw" x="1890.5" y="4223.5" width="55.5" height="58" rx="2" fill="#88bbe0" stroke="#2e72a6" stroke-width="5"/>
<rect class="sw" x="1890.5" y="4391" width="56" height="59" rx="2" fill="#ff80cf" stroke="#ff30b4" stroke-width="5"/>
<text id="t_legA1" x="1988.0" y="2063.0" textLength="325.8" lengthAdjust="spacingAndGlyphs">Male d1</text>
<text id="t_legA2" x="1988.0" y="2230.7" textLength="417.0" lengthAdjust="spacingAndGlyphs">Female d1</text>
<text id="t_legB1" x="1973.3" y="4282.4" textLength="334.1" lengthAdjust="spacingAndGlyphs">Male d8</text>
<text id="t_legB2" x="1973.3" y="4448.8" textLength="425.4" lengthAdjust="spacingAndGlyphs">Female d8</text>
</g>
<g class="ast">
<text id="t_astA" x="953.0" y="2046.4" fill="#f5006e" text-anchor="middle">*</text>
<text id="t_astNos2" x="823.6" y="2516.3" fill="#ff00a0" text-anchor="middle">*</text>
<text id="t_astGas6a" x="1230.2" y="2425.3" fill="#135c98" text-anchor="middle">*</text>
<text id="t_astGas6b" x="1282.4" y="2425.3" fill="#135c98" text-anchor="middle">*</text>
<text id="t_astCyba" x="1655.2" y="2514.4" fill="#135c98" text-anchor="middle">*</text>
<text id="t_astIl6" x="1837.8" y="2659.2" fill="#135c98" text-anchor="middle">*</text>
</g>
</svg>
</div>
</body></html>
